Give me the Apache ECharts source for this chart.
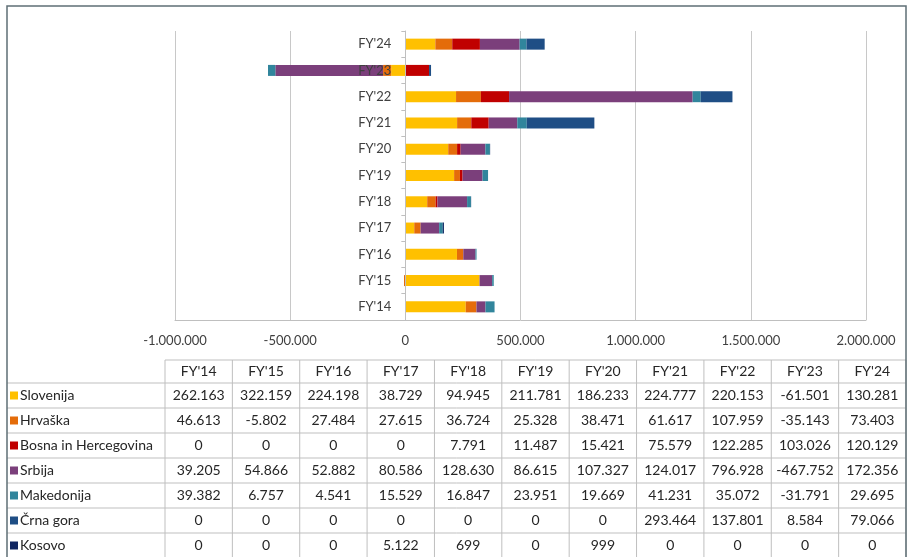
<!DOCTYPE html>
<html lang="sl">
<head>
    <meta charset="UTF-8">
    <script src="https://cdn.jsdelivr.net/npm/echarts@6/dist/echarts.min.js"></script>
    <title>FY'14 - FY'24</title>
</head>
<body style="margin: 0; background: #fff">
<div id="container" style="width: 907px; height: 557px"></div>

<script>
    // podatki
    var years = ["FY'14", "FY'15", "FY'16", "FY'17", "FY'18", "FY'19", "FY'20", "FY'21", "FY'22", "FY'23", "FY'24"];
    var countries = ['Slovenija', 'Hrvaška', 'Bosna in Hercegovina', 'Srbija', 'Makedonija', 'Črna gora', 'Kosovo'];
    var colors = ['#FFC000', '#E46C0A', '#C00000', '#7B3F7B', '#31859C', '#1F4E85', '#0F2561'];

    var slovenija = [262163, 322159, 224198, 38729, 94945, 211781, 186233, 224777, 220153, -61501, 130281];
    var hrvaska = [46613, -5802, 27484, 27615, 36724, 25328, 38471, 61617, 107959, -35143, 73403];
    var bosna = [0, 0, 0, 0, 7791, 11487, 15421, 75579, 122285, 103026, 120129];
    var srbija = [39205, 54866, 52882, 80586, 128630, 86615, 107327, 124017, 796928, -467752, 172356];
    var makedonija = [39382, 6757, 4541, 15529, 16847, 23951, 19669, 41231, 35072, -31791, 29695];
    var crnaGora = [0, 0, 0, 0, 0, 0, 0, 293464, 137801, 8584, 79066];
    var kosovo = [0, 0, 0, 5122, 699, 0, 999, 0, 0, 0, 0];

    var values = [slovenija, hrvaska, bosna, srbija, makedonija, crnaGora, kosovo];

    var axisMin = -1000000, axisMax = 2000000, axisStep = 500000;

    // 1.000.000 format
    function fmt(v) {
        var s = String(Math.abs(v)).replace(/\B(?=(\d{3})+(?!\d))/g, '.');
        return (v < 0 ? '-' : '') + s;
    }

    var dom = document.getElementById('container');
    var myChart = echarts.init(dom);

    var gridLeft = 175, gridRight = 41;
    var gridW = 907 - gridLeft - gridRight;
    // kategorijska os stoji pri 0
    var zeroOffset = gridW * (0 - axisMin) / (axisMax - axisMin);

    var series = [];
    for (var i = 0; i < countries.length; i++) {
        series.push({
            name: countries[i],
            type: 'bar',
            stack: 'total',
            barWidth: 11,
            z: 1,
            itemStyle: {color: colors[i]},
            data: values[i]
        });
    }

    // tabela pod grafom
    var font = '14px Lato, "Open Sans", sans-serif';
    var tbl = [];
    var x0 = 7, xLab = 165, xEnd = 906;
    var colW = (xEnd - xLab) / years.length;
    var hTop = 360, hBot = 383, rowH = 25;
    var lineStyle = {stroke: '#bfbfbf', lineWidth: 1};
    var yBottom = hBot + rowH * countries.length;

    tbl.push({type: 'line', shape: {x1: xLab, y1: hTop, x2: xEnd, y2: hTop}, style: lineStyle});
    for (var r = 0; r <= countries.length; r++) {
        var yy = hBot + r * rowH;
        tbl.push({type: 'line', shape: {x1: x0, y1: yy, x2: xEnd, y2: yy}, style: lineStyle});
    }
    for (var c = 0; c <= years.length; c++) {
        var xx = xLab + c * colW;
        tbl.push({type: 'line', shape: {x1: xx, y1: hTop, x2: xx, y2: yBottom}, style: lineStyle});
    }
    for (var c = 0; c < years.length; c++) {
        tbl.push({
            type: 'text',
            style: {x: xLab + (c + 0.5) * colW, y: (hTop + hBot) / 2, text: years[c], font: font,
                fill: '#262626', align: 'center', verticalAlign: 'middle'}
        });
    }
    for (var r = 0; r < countries.length; r++) {
        var cy = hBot + (r + 0.5) * rowH;
        tbl.push({type: 'rect', shape: {x: 10, y: cy - 4, width: 8, height: 8}, style: {fill: colors[r]}});
        tbl.push({
            type: 'text',
            style: {x: 20, y: cy, text: countries[r], font: font, fill: '#262626', verticalAlign: 'middle'}
        });
        for (var c = 0; c < years.length; c++) {
            tbl.push({
                type: 'text',
                style: {x: xLab + (c + 0.5) * colW, y: cy, text: fmt(values[r][c]), font: font,
                    fill: '#262626', align: 'center', verticalAlign: 'middle'}
            });
        }
    }
    // okvir
    tbl.push({type: 'polyline', shape: {points: [[x0, 557], [x0, 6], [xEnd, 6], [xEnd, 557]]},
        style: {stroke: '#5f6f76', lineWidth: 1.5, fill: null}});

    var option = {
        animation: false,
        textStyle: {fontFamily: 'Lato, "Open Sans", sans-serif'},
        grid: {left: gridLeft, right: gridRight, top: 31, bottom: 237},
        xAxis: {
            type: 'value',
            min: axisMin,
            max: axisMax,
            interval: axisStep,
            axisLine: {show: true, lineStyle: {color: '#bfbfbf'}},
            axisTick: {show: false},
            splitLine: {lineStyle: {color: '#c8c8c8'}},
            axisLabel: {color: '#404040', fontSize: 13, margin: 14, formatter: fmt}
        },
        yAxis: {
            type: 'category',
            data: years,
            z: 10,
            position: 'left',
            offset: -zeroOffset,
            axisLine: {onZero: false, lineStyle: {color: '#bfbfbf'}},
            axisTick: {show: true, length: 4, lineStyle: {color: '#bfbfbf'}},
            axisLabel: {color: '#404040', fontSize: 13, margin: 14}
        },
        series: series,
        graphic: tbl
    };

    myChart.setOption(option);
</script>
</body>
</html>
